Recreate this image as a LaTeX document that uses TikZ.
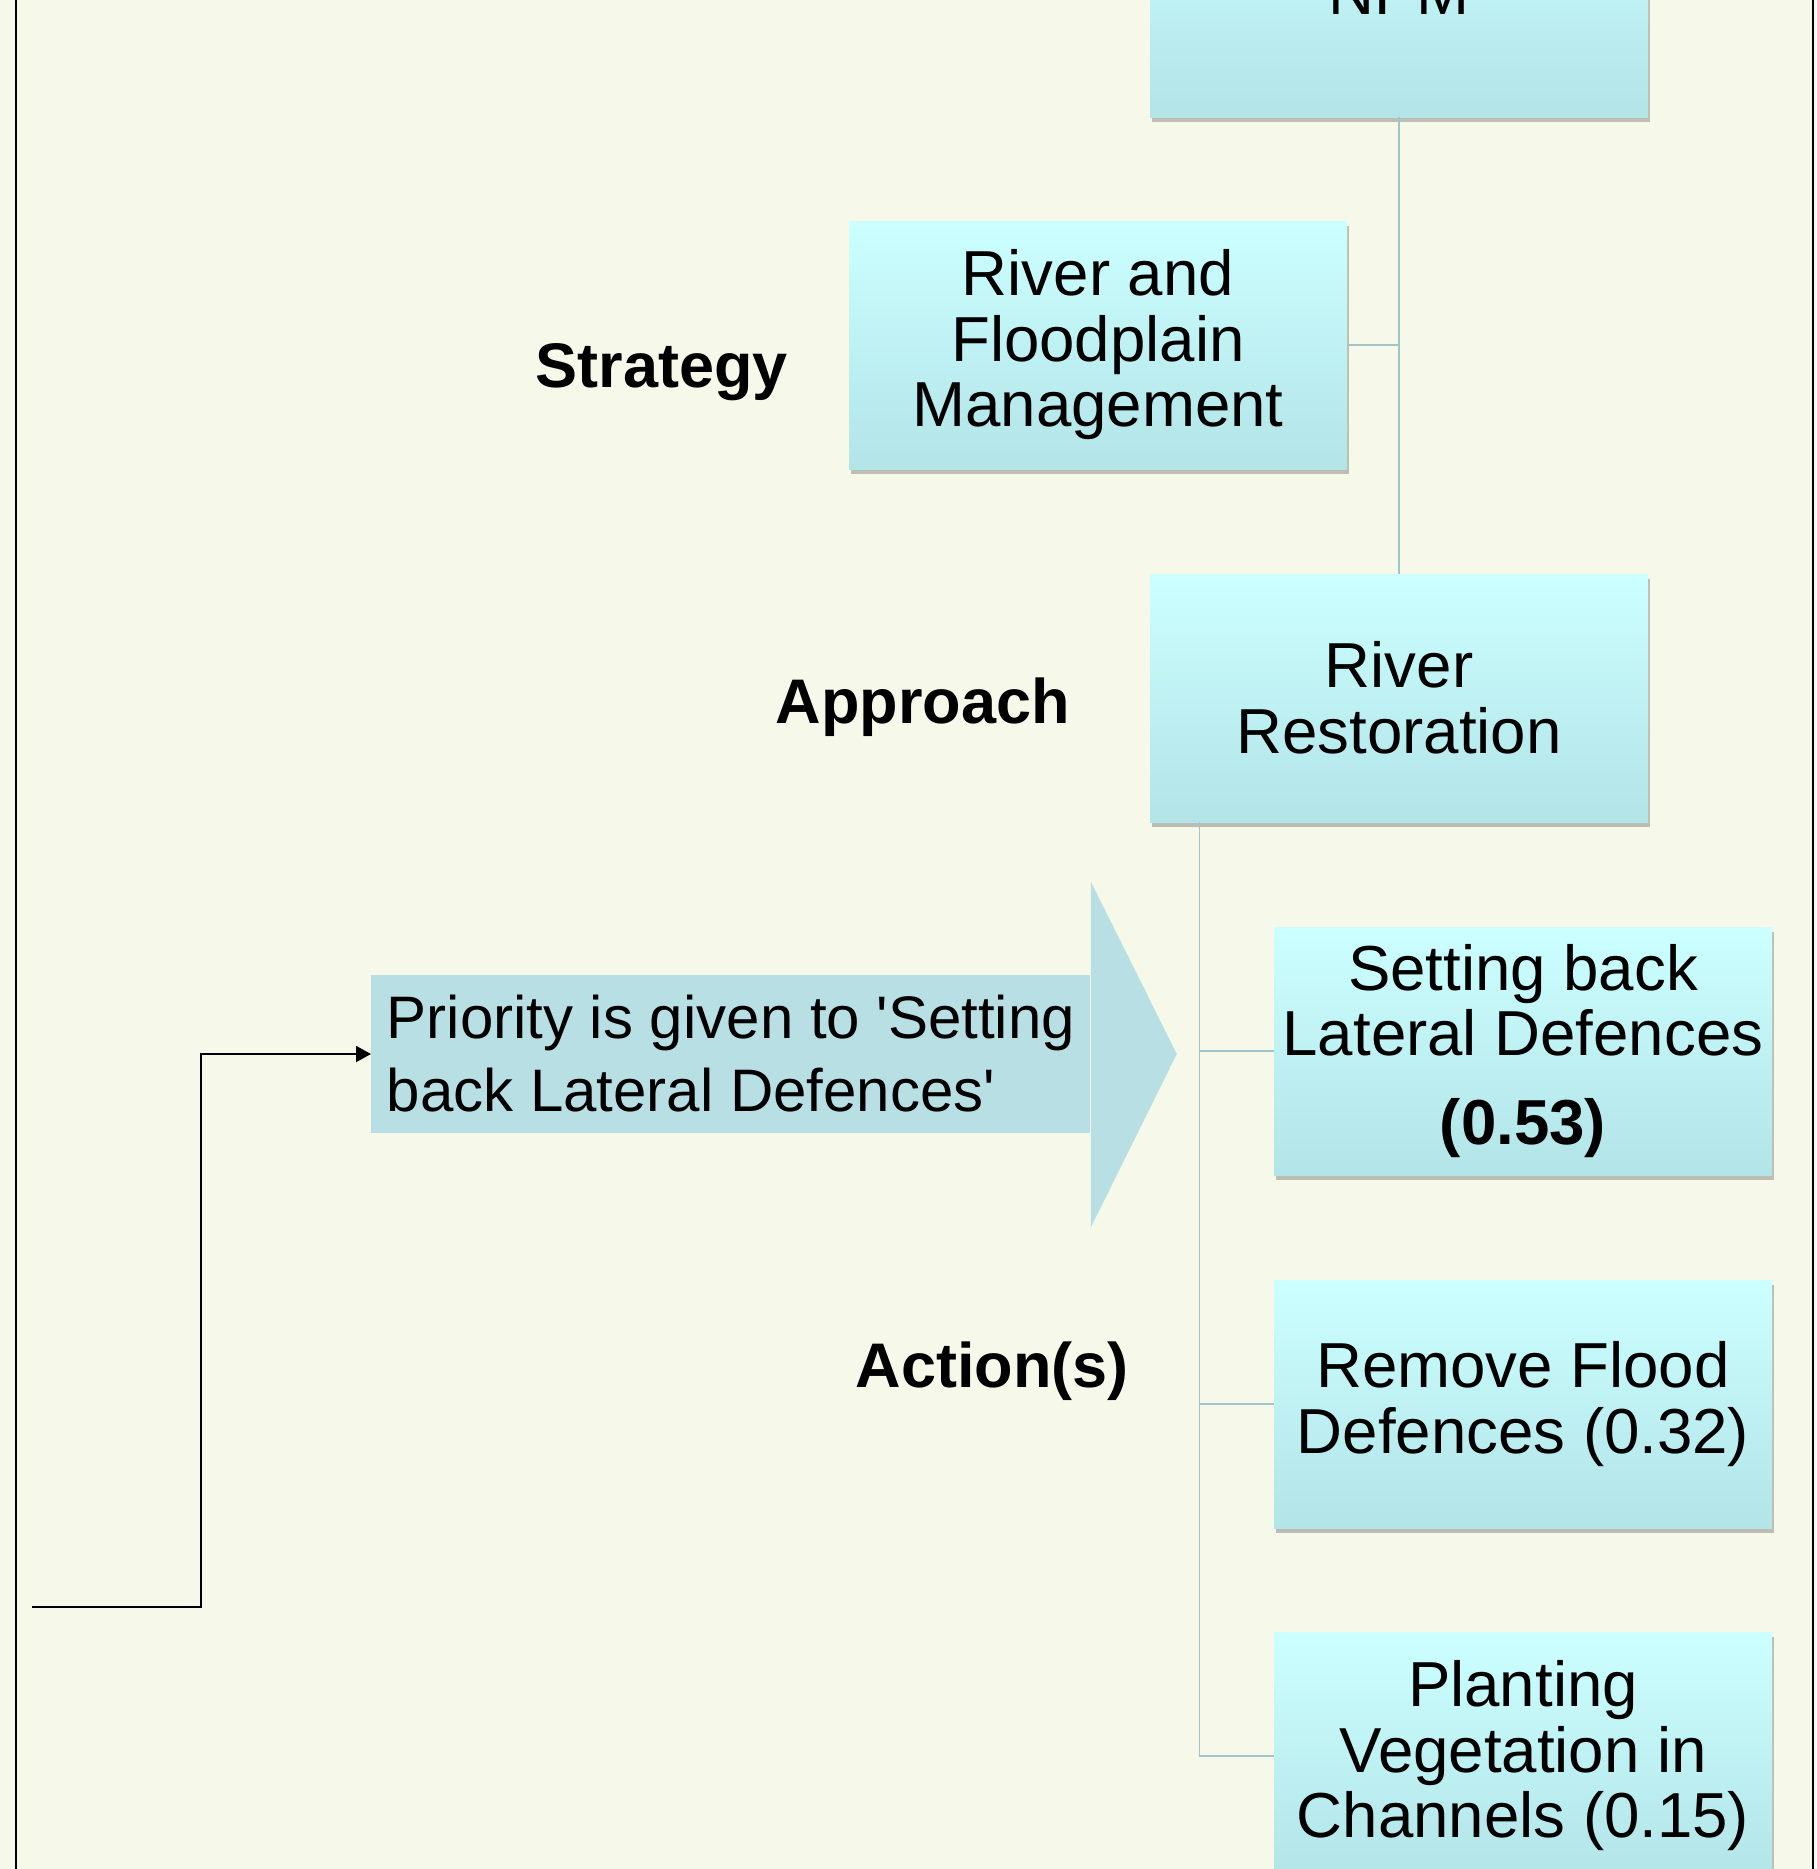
\documentclass[tikz,border=0pt]{standalone}
\usepackage{fontspec}
\setmainfont{Liberation Sans}
\usetikzlibrary{shadows,arrows.meta}
\definecolor{bgcream}{RGB}{246,249,233}
\definecolor{boxtop}{RGB}{204,255,255}
\definecolor{boxbot}{RGB}{178,228,232}
\definecolor{priofill}{RGB}{184,223,228}
\definecolor{linkgray}{RGB}{160,196,200}
\newcommand{\boxfont}{\fontsize{31.8}{32.75}\selectfont}
\newcommand{\priofont}{\fontsize{30}{36.5}\selectfont}
\newcommand{\levelfont}{\fontsize{31.5}{36}\selectfont\bfseries}
\begin{document}
\begin{tikzpicture}[x=0.5pt, y=-0.5pt,
  levelbox/.style={rectangle, top color=boxtop, bottom color=boxbot, minimum width=249pt, minimum height=124pt,
    inner sep=0pt, align=center, font=\boxfont,
    drop shadow={shadow xshift=0.75pt, shadow yshift=-2.5pt, fill=black!60, opacity=0.4}},
  levellabel/.style={anchor=base, inner sep=0pt, font=\levelfont},
  link/.style={draw=linkgray, line width=0.6pt},
  priobox/.style={rectangle, fill=priofill, minimum width=359.5pt, inner sep=0pt,
    minimum height=79pt, align=left, font=\priofont},
  feedline/.style={draw=black, line width=1pt, -{Triangle[length=7.5pt,width=8pt]}}]
  \clip (0,0) rectangle (1816,1869);
  \fill[bgcream] (0,0) rectangle (1816,1869);
  \draw[line width=1pt] (15.5,-20) rectangle (1813,1890);
  % hierarchy
  \node[levelbox] (npm) at (1399,-7) {NPM};
  \node[levelbox] (strategy) at (1098,345) {River and\\Floodplain\\Management};
  \node[levelbox] (approach) at (1399,698) {River\\Restoration};
  \node[levelbox] (setback) at (1523,1051) {Setting back\\Lateral Defences\\[11.75pt]\textbf{(0.53)}};
  \node[levelbox] (removedef) at (1523,1404) {Remove Flood\\Defences (0.32)};
  \node[levelbox] (planting) at (1523,1756) {Planting\\Vegetation in\\Channels (0.15)};
  \node[levellabel] (strategylbl) at (662,387) {Strategy};
  \node[levellabel] (approachlbl) at (923,723) {Approach};
  \node[levellabel] (actionlbl) at (992,1387) {Action(s)};
  % tree links
  \draw[link] (npm.south) -- (approach.north);
  \draw[link] (strategy.east) -- (strategy.east -| npm.south);
  \coordinate (trunk) at ([xshift=25pt]approach.south west);
  \draw[link] (trunk) |- (planting.west);
  \draw[link] (trunk |- setback.west) -- (setback.west);
  \draw[link] (trunk |- removedef.west) -- (removedef.west);
  % priority arrow
  \node[priobox, anchor=west] (priority) at (371,1054)
    {Priority is given to \textquotesingle Setting\\back Lateral Defences\textquotesingle};
  \fill[priofill] ([yshift=46.5pt]priority.north east) -- ([xshift=43pt]priority.east)
    -- ([yshift=-47pt]priority.south east) -- cycle;
  \coordinate (feed) at (32,1607);
  \draw[feedline] (feed) -- ++(169,0) |- (priority.west);
\end{tikzpicture}
\end{document}
